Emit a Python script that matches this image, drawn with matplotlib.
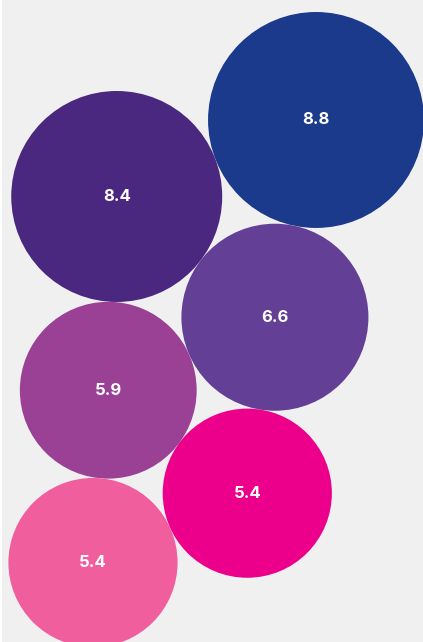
import numpy as np
import matplotlib.pyplot as plt
from matplotlib.patches import Circle

# values shown in the bubbles (area proportional to value)
values = [8.8, 8.4, 6.6, 5.9, 5.4, 5.4]
labels = ["8.8", "8.4", "6.6", "5.9", "5.4", "5.4"]
colors = ["#1b3a8b", "#4a2880", "#634096", "#9a4195", "#ec008b", "#f15e9e"]


def tangent_center(a, ra, b, rb, r):
    # centre of circle of radius r touching circles a and b, picking the lower one
    d = np.hypot(*(b - a))
    la, lb = ra + r, rb + r
    x = (la**2 - lb**2 + d**2) / (2 * d)
    h = np.sqrt(max(la**2 - x**2, 0))
    u = (b - a) / d
    n = np.array([-u[1], u[0]])
    c1 = a + u * x + n * h
    c2 = a + u * x - n * h
    return c1 if c1[1] < c2[1] else c2


def main():
    scale = 36.4  # px per sqrt(value)
    radii = [scale * np.sqrt(v) for v in values]

    # zigzag chain: each bubble touches the two before it
    centers = [np.array([0.0, 0.0])]
    ang = np.deg2rad(201)
    centers.append(centers[0] + (radii[0] + radii[1]) * np.array([np.cos(ang), np.sin(ang)]))
    for i in range(2, len(values)):
        centers.append(tangent_center(centers[i - 2], radii[i - 2], centers[i - 1], radii[i - 1], radii[i]))

    W, H = 423, 642
    fig = plt.figure(figsize=(W / 100, H / 100), dpi=100)
    fig.patch.set_facecolor("white")
    ax = fig.add_axes([2 / W, 0, (W - 2) / W, 1])
    ax.set_facecolor("#f0f0f0")

    for c, r, col, lab in zip(centers, radii, colors, labels):
        ax.add_patch(Circle(c, r, facecolor=col, edgecolor="none"))
        ax.text(c[0], c[1], lab, ha="center", va="center", color="white",
                fontsize=12, fontweight="bold", family=["Inter", "DejaVu Sans"])

    xmax = centers[0][0] + radii[0] - 1
    ytop = centers[0][1] + radii[0] + 12
    ax.set_xlim(xmax - (W - 2), xmax)
    ax.set_ylim(ytop - H, ytop)
    ax.set_aspect("equal")
    ax.set_xticks([])
    ax.set_yticks([])
    for s in ax.spines.values():
        s.set_visible(False)

    fig.savefig("out.png", dpi=100, facecolor=fig.get_facecolor())


if __name__ == '__main__':
    main()
